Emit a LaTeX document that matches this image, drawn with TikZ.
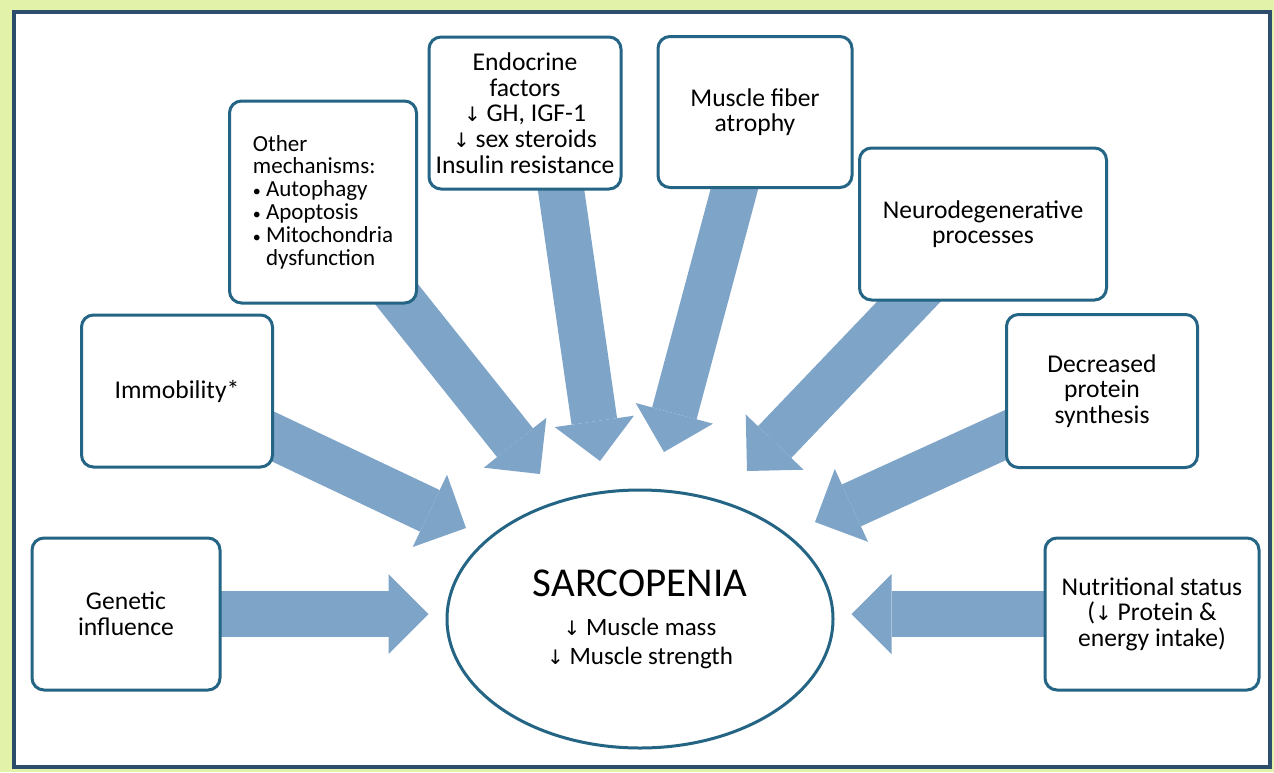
\documentclass[tikz,border=0pt]{standalone}
\usepackage{fontspec}
\setmainfont{Carlito}
\newfontfamily\arrowfont{DejaVu Sans}
\usetikzlibrary{arrows.meta,shapes.geometric,backgrounds,calc}
\definecolor{outerband}{RGB}{226,242,168}
\definecolor{frameline}{RGB}{44,78,108}
\definecolor{boxline}{RGB}{36,100,132}
\definecolor{fatblue}{RGB}{126,164,200}
\newcommand{\dn}{{\arrowfont\fontsize{10}{10}\selectfont ↓}}
\newcommand{\bul}{{\fontsize{8}{8}\selectfont\textbullet}\ }
\tikzset{
	factor/.style={draw=boxline, line width=1.5pt, rounded corners=6pt, fill=white,
		align=center, inner sep=2pt, font=\fontsize{12.8}{12.8}\selectfont},
	fat/.style={draw=fatblue, line width=23pt,
		-{Triangle[width=40pt, length=20pt, line width=0pt]}},
}

\begin{document}
\begin{tikzpicture}[x=0.5pt, y=-0.5pt]
	\begin{scope}[on background layer]
		\fill [outerband] (0,0) rectangle (1274,772);
		\draw [frameline, line width=1.6pt, fill=white] (14,12) rectangle (1270,767);
	\end{scope}
	\node [factor, minimum width=94pt, minimum height=76pt] (gen) at (126,614) {Genetic\\influence};
	\node [factor, minimum width=95.5pt, minimum height=76pt] (imm) at (177,391) {Immobility*};
	\node [factor, minimum width=93.5pt, minimum height=101pt, font=\fontsize{11.5}{11.4}\selectfont, align=left]
		(oth) at (323,202) {Other\\mechanisms:\\\bul Autophagy\\\bul Apoptosis\\
		\bul Mitochondria\\\phantom{\bul}dysfunction};
	\node [factor, minimum width=96pt, minimum height=76pt] (endo) at (525,113)
		{Endocrine\\factors\\\dn\ GH, IGF-1\\\dn\ sex steroids\\Insulin resistance};
	\node [factor, minimum width=97pt, minimum height=75.5pt] (fib) at (755,112) {Muscle fiber\\atrophy};
	\node [factor, minimum width=123.5pt, minimum height=76pt] (neuro) at (983,224) {Neurodegenerative\\processes};
	\node [factor, minimum width=95.5pt, minimum height=76.5pt] (dec) at (1102,391) {Decreased\\protein\\synthesis};
	\node [factor, minimum width=107pt, minimum height=76pt] (nut) at (1152,614)
		{Nutritional status\\(\dn\ Protein \&\\energy intake)};
	\node [ellipse, draw=boxline, line width=1.5pt, fill=white, inner sep=0pt,
		minimum width=193pt, minimum height=129pt, align=center,
		font=\fontsize{12.5}{14.5}\selectfont] (sarc) at (640,619)
		{{\fontsize{20.5}{24}\selectfont SARCOPENIA}\\[5pt]\dn\ Muscle mass\\\dn\ Muscle strength};
	\coordinate (tImm) at (466,528);
	\coordinate (tOth) at (540,474);
	\coordinate (tEndo) at (600,461);
	\coordinate (tFib) at (664,452);
	\coordinate (tNeuro) at (747,471);
	\coordinate (tDec) at (815,522);
	\begin{scope}[on background layer]
		\draw [fat, shorten >=8.5pt] (gen.center) -- (gen.center -| sarc.west);
		\draw [fat, shorten >=8.5pt] (nut.center) -- (nut.center -| sarc.east);
		\draw [fat] (imm.center) -- (tImm);
		\draw [fat] (oth.center) -- (tOth);
		\draw [fat] ($(endo.center)+(25,0)$) -- (tEndo);
		\draw [fat] (fib.center) -- (tFib);
		\draw [fat] (neuro.center) -- (tNeuro);
		\draw [fat] (dec.center) -- (tDec);
	\end{scope}
\end{tikzpicture}
\end{document}
